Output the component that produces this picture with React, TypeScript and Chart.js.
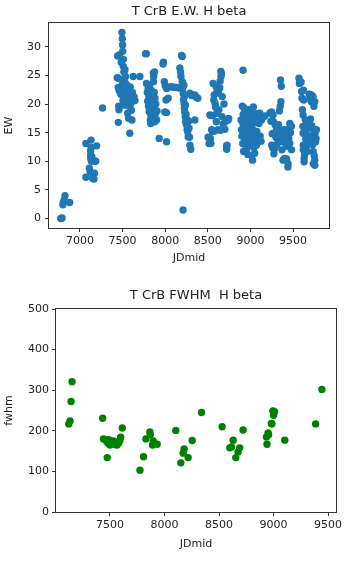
import React, { useEffect, useRef } from "react";
import { Chart, registerables } from "chart.js";
Chart.register(...registerables);

const ewTitle = "T CrB E.W. H beta";
const fwhmTitle = "T CrB FWHM  H beta";
const ewTicksX = [7000, 7500, 8000, 8500, 9000, 9500];
const ewTicksY = [0, 5, 10, 15, 20, 25, 30];
const fwhmTicksX = [7500, 8000, 8500, 9000, 9500];
const fwhmTicksY = [0, 100, 200, 300, 400, 500];

// [JDmid, EW]
const ewPoints: [number, number][] = [
  [6775, 0.0], [6790, 0.1], [6800, 2.4], [6805, 2.8], [6815, 3.2], [6825, 4.0], [6880, 2.8],
  [7070, 13.1], [7070, 7.2], [7110, 8.8], [7120, 8.2], [7125, 11.8], [7125, 11.0], [7128, 10.4], [7130, 13.7],
  [7132, 12.4], [7135, 10.0], [7140, 10.8], [7150, 7.0], [7155, 7.7], [7160, 10.1], [7165, 6.9], [7170, 7.9],
  [7185, 10.0], [7196, 12.7],
  [7265, 19.3],
  [7437, 24.6], [7442, 28.4], [7450, 16.8], [7450, 22.9], [7452, 24.5], [7455, 19.6], [7458, 19.0], [7460, 22.3],
  [7465, 28.6], [7480, 21.7], [7485, 27.3], [7490, 22.5], [7493, 32.5], [7497, 31.4], [7500, 30.3], [7500, 23.5],
  [7502, 29.2], [7505, 20.6], [7508, 26.6], [7510, 27.8], [7512, 22.8], [7515, 25.6], [7518, 24.2], [7520, 21.4],
  [7522, 23.0], [7525, 19.8], [7528, 26.0], [7530, 22.2], [7535, 24.8], [7538, 21.0], [7540, 23.5], [7545, 22.6],
  [7548, 20.4], [7550, 21.8], [7555, 23.2], [7560, 18.4], [7562, 22.0], [7565, 20.9], [7570, 17.5], [7575, 22.4],
  [7580, 21.4], [7585, 14.9], [7585, 19.5], [7590, 23.0], [7595, 21.0], [7600, 20.2], [7605, 18.9], [7610, 17.2],
  [7615, 22.0], [7625, 24.8], [7635, 21.3], [7645, 20.6], [7703, 24.8],
  [7770, 28.8], [7778, 28.8], [7781, 23.6], [7790, 22.0], [7795, 20.5], [7800, 22.7], [7805, 19.6], [7810, 21.3],
  [7812, 18.7], [7815, 23.2], [7820, 20.0], [7825, 17.2], [7830, 16.6], [7832, 18.1], [7835, 22.4], [7840, 19.2],
  [7845, 21.6], [7850, 17.8], [7855, 20.3], [7860, 25.4], [7862, 23.9], [7865, 24.8], [7868, 19.0], [7872, 22.0],
  [7875, 25.6], [7878, 16.9], [7880, 21.0], [7885, 18.3], [7890, 20.0], [7900, 17.2], [7905, 18.8], [7930, 14.0],
  [7975, 27.0], [7980, 27.3], [7990, 23.9], [7996, 18.6], [8000, 23.2], [8010, 20.7], [8016, 18.5], [8016, 13.4],
  [8016, 22.7], [8035, 21.0],
  [8055, 23.0], [8075, 23.0], [8095, 23.0], [8115, 22.9], [8135, 22.9], [8160, 22.8], [8172, 26.3], [8180, 25.6],
  [8185, 24.8], [8192, 28.5], [8200, 28.3], [8200, 23.9], [8205, 22.7], [8210, 1.5], [8212, 21.8], [8215, 20.8],
  [8220, 23.3], [8222, 20.1], [8225, 19.3], [8228, 18.6], [8230, 21.4], [8235, 17.8], [8238, 19.8], [8240, 16.9],
  [8245, 18.2], [8250, 16.4], [8255, 17.3], [8258, 15.5], [8260, 16.1], [8265, 15.1], [8270, 14.3], [8275, 17.0],
  [8280, 15.8], [8285, 14.2], [8290, 21.9], [8290, 12.8], [8300, 12.1], [8310, 21.5], [8348, 21.6], [8348, 17.2],
  [8365, 21.2], [8383, 21.0],
  [8503, 14.2], [8515, 13.1], [8524, 18.1], [8530, 14.0], [8536, 13.1], [8540, 18.0], [8545, 15.5], [8555, 15.2],
  [8560, 18.0], [8563, 23.6], [8570, 20.7], [8575, 21.6], [8580, 15.3], [8585, 20.1], [8590, 19.5], [8595, 23.1],
  [8600, 16.9], [8605, 18.4], [8610, 22.4], [8620, 15.5], [8625, 21.9], [8630, 19.0], [8640, 22.8], [8645, 24.0],
  [8650, 15.4], [8653, 25.7], [8655, 24.8], [8660, 25.3], [8665, 17.8], [8670, 21.3], [8680, 16.5], [8690, 20.0],
  [8700, 15.6], [8710, 17.0], [8720, 12.6], [8722, 12.1], [8725, 12.8], [8739, 17.2], [8745, 17.5],
  [8914, 25.9],
  [8890, 17.2], [8895, 15.5], [8900, 14.4], [8905, 19.6], [8910, 13.1], [8912, 16.6], [8915, 18.2], [8920, 11.7],
  [8925, 19.3], [8928, 15.0], [8930, 17.0], [8935, 14.0], [8940, 11.9], [8945, 18.6], [8948, 16.2], [8950, 13.4],
  [8955, 15.6], [8960, 17.6], [8962, 12.3], [8968, 14.8], [8970, 11.2], [8975, 16.6], [8980, 19.0], [8985, 13.8],
  [8990, 15.2], [8995, 17.3], [9000, 12.8], [9005, 18.6], [9008, 14.4], [9010, 11.0], [9015, 16.0], [9020, 13.2],
  [9025, 10.2], [9028, 17.8], [9030, 15.5], [9035, 19.5], [9040, 12.4], [9045, 14.8], [9050, 11.4], [9055, 16.8],
  [9060, 13.6], [9065, 18.3], [9070, 12.8], [9075, 15.2], [9080, 14.2], [9090, 17.5], [9100, 16.6], [9110, 18.4],
  [9115, 14.4], [9125, 13.5], [9130, 17.2], [9149, 17.7], [9169, 17.9],
  [9227, 18.4], [9240, 17.0], [9247, 18.6], [9250, 12.8], [9255, 14.8], [9262, 12.3], [9266, 18.1], [9270, 16.9],
  [9275, 11.3], [9280, 14.9], [9286, 12.2], [9290, 16.4], [9300, 14.2], [9305, 15.6], [9310, 12.9], [9320, 13.8],
  [9330, 16.4], [9335, 14.6], [9340, 18.8], [9345, 13.4], [9350, 19.6], [9353, 24.2], [9358, 20.4], [9362, 23.1],
  [9365, 15.2], [9370, 12.0], [9375, 14.0], [9383, 10.2], [9390, 15.5], [9395, 13.4], [9400, 10.5], [9410, 14.6],
  [9420, 12.6], [9425, 10.4], [9430, 15.5], [9440, 9.0], [9442, 9.6], [9450, 14.0], [9462, 16.6], [9462, 13.1],
  [9470, 15.0], [9482, 16.1], [9482, 12.0],
  [9570, 24.5], [9575, 23.6], [9580, 24.0], [9595, 23.8], [9600, 22.2], [9605, 21.0], [9610, 19.0], [9615, 16.1],
  [9618, 18.1], [9618, 14.9], [9620, 12.8], [9620, 12.0], [9622, 22.4], [9625, 20.7], [9630, 10.5], [9630, 9.9],
  [9635, 11.1], [9640, 15.5], [9645, 17.2], [9650, 13.9], [9655, 12.5], [9660, 16.6], [9665, 11.7], [9670, 14.6],
  [9680, 15.8], [9690, 21.7], [9695, 13.5], [9700, 20.9], [9705, 17.4], [9710, 14.4], [9715, 21.6], [9715, 20.4],
  [9720, 16.2], [9730, 12.9], [9735, 21.3], [9735, 11.7], [9738, 9.6], [9740, 15.5], [9745, 19.6], [9748, 11.0],
  [9750, 14.2], [9755, 20.4], [9755, 10.2], [9755, 9.3], [9760, 15.0], [9765, 13.4], [9770, 14.0], [9775, 15.5],
];

// [JDmid, fwhm]
const fwhmPoints: [number, number][] = [
  [7122, 217], [7134, 224], [7143, 272], [7152, 321],
  [7433, 231], [7440, 180], [7455, 178], [7470, 175], [7475, 134], [7480, 170], [7490, 178], [7500, 165],
  [7510, 172], [7520, 168], [7530, 175], [7545, 166], [7555, 172], [7565, 165], [7580, 170], [7590, 176],
  [7598, 184], [7613, 207],
  [7775, 103], [7808, 136], [7830, 180], [7866, 197], [7870, 190], [7890, 165], [7897, 175], [7933, 167],
  [8104, 201], [8150, 121], [8171, 145], [8180, 155], [8217, 134], [8254, 176], [8340, 245],
  [8529, 210], [8599, 158], [8614, 160], [8630, 177], [8654, 134], [8675, 148], [8690, 158], [8721, 202],
  [8935, 185], [8940, 167], [8950, 195], [8955, 190], [8980, 218], [8985, 217], [8995, 249], [9000, 238],
  [9010, 247], [9103, 177], [9386, 217], [9444, 302],
];

const FONT = "'DejaVu Sans', sans-serif";
const TXT = "#222";

const framePlugin = {
  id: "frame",
  afterDraw(chart: any) {
    const { ctx, chartArea: a } = chart;
    ctx.save();
    ctx.strokeStyle = "#333";
    ctx.lineWidth = 1;
    ctx.strokeRect(Math.round(a.left) - 0.5, Math.round(a.top) - 0.5, Math.round(a.right - a.left) + 1, Math.round(a.bottom - a.top) + 1);
    ctx.restore();
  },
};

function buildConfig(p: {
  points: [number, number][];
  color: string;
  title: string;
  titlePad: { top: number; bottom: number };
  xMin: number; xMax: number; xTicks: number[];
  yMin: number; yMax: number; yTicks: number[];
  yLabel: string;
  yWidth: number; xHeight: number; padRight: number; xTitlePad: number; yTickPad: number;
}): any {
  const tickSetup = { drawOnChartArea: false, drawTicks: true, tickLength: 4, tickColor: "#333", lineWidth: 1 };
  return {
    type: "scatter",
    data: {
      datasets: [{
        data: p.points.map(([x, y]) => ({ x, y })),
        backgroundColor: p.color,
        borderWidth: 0,
        pointRadius: 3.7,
        pointHoverRadius: 3.7,
      }],
    },
    options: {
      animation: false,
      responsive: false,
      events: [],
      layout: { padding: { left: 0, right: p.padRight, top: 0, bottom: 0 } },
      plugins: {
        legend: { display: false },
        tooltip: { enabled: false },
        title: {
          display: true, text: p.title, fullSize: false, color: TXT,
          font: { family: FONT, size: 13, weight: "normal" }, padding: p.titlePad,
        },
      },
      scales: {
        x: {
          type: "linear", min: p.xMin, max: p.xMax,
          afterBuildTicks: (s: any) => { s.ticks = p.xTicks.map((v) => ({ value: v })); },
          afterFit: (s: any) => { s.height = p.xHeight; },
          grid: tickSetup,
          border: { display: false },
          ticks: { color: TXT, font: { family: FONT, size: 11 }, padding: 2.5, maxRotation: 0, autoSkip: false, callback: (v: any) => String(v) },
          title: { display: true, text: "JDmid", color: TXT, font: { family: FONT, size: 11 }, padding: { top: 0, bottom: p.xTitlePad } },
        },
        y: {
          type: "linear", min: p.yMin, max: p.yMax,
          afterBuildTicks: (s: any) => { s.ticks = p.yTicks.map((v) => ({ value: v })); },
          afterFit: (s: any) => { s.width = p.yWidth; },
          grid: tickSetup,
          border: { display: false },
          ticks: { color: TXT, font: { family: FONT, size: 11 }, padding: p.yTickPad, autoSkip: false, callback: (v: any) => String(v) },
          title: { display: true, text: p.yLabel, color: TXT, font: { family: FONT, size: 11 }, padding: { top: 3, bottom: 0 } },
        },
      },
    },
    plugins: [framePlugin],
  };
}

export default function App() {
  const topRef = useRef<HTMLCanvasElement>(null);
  const botRef = useRef<HTMLCanvasElement>(null);

  useEffect(() => {
    const c1 = new Chart(topRef.current!, buildConfig({
      points: ewPoints, color: "#1f77b4", title: ewTitle, titlePad: { top: 3.5, bottom: 3.9 },
      xMin: 6637, xMax: 9922, xTicks: ewTicksX,
      yMin: -1.65, yMax: 34.15, yTicks: ewTicksY, yLabel: "EW",
      yWidth: 49, xHeight: 54, padRight: 25, xTitlePad: 17.5, yTickPad: 4,
    }));
    const c2 = new Chart(botRef.current!, buildConfig({
      points: fwhmPoints, color: "#008000", title: fwhmTitle, titlePad: { top: 5.8, bottom: 5.6 },
      xMin: 7005, xMax: 9573, xTicks: fwhmTicksX,
      yMin: 0, yMax: 500, yTicks: fwhmTicksY, yLabel: "fwhm",
      yWidth: 56, xHeight: 53, padRight: 18, xTitlePad: 14.5, yTickPad: 3,
    }));
    return () => { c1.destroy(); c2.destroy(); };
  }, []);

  return (
    <div style={{ position: "absolute", left: 0, top: 0, width: 354, height: 565, background: "#fff" }}>
      <canvas ref={topRef} width={354} height={282} style={{ position: "absolute", left: 0, top: 0, width: 354, height: 282 }} />
      <canvas ref={botRef} width={354} height={283} style={{ position: "absolute", left: 0, top: 282, width: 354, height: 283 }} />
    </div>
  );
}
